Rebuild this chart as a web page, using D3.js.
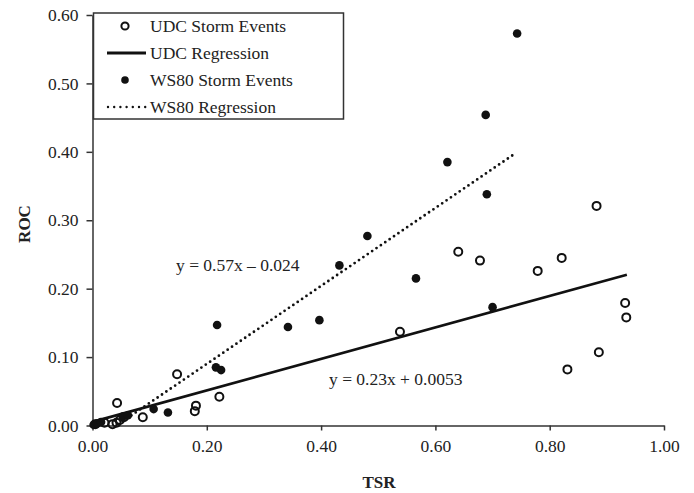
<!DOCTYPE html>
<html>
<head>
<meta charset="utf-8">
<script src="https://cdn.jsdelivr.net/npm/d3@7"></script>
<style>
  body{margin:0;background:#fff;}
  svg text{font-family:"Liberation Serif","Times New Roman",serif;fill:#222;}
</style>
</head>
<body>
<svg id="chart" width="694" height="493"></svg>
<script>
// UDC storm events (open circles) [TSR, ROC]
const udcTSR=[0.005,0.021,0.035,0.042,0.043,0.048,0.055,0.088,0.148,0.179,0.181,0.222,0.538,0.640,0.678,0.779,0.821,0.831,0.882,0.886,0.932,0.934];
const udcROC=[0.002,0.004,0.002,0.004,0.033,0.008,0.012,0.012,0.075,0.021,0.029,0.042,0.137,0.254,0.241,0.226,0.245,0.082,0.321,0.107,0.179,0.158];
// WS80 storm events (filled dots)
const wsTSR=[0.002,0.008,0.015,0.053,0.062,0.107,0.132,0.216,0.218,0.225,0.342,0.397,0.432,0.481,0.566,0.621,0.688,0.690,0.700,0.743];
const wsROC=[0.001,0.003,0.005,0.013,0.015,0.024,0.019,0.085,0.147,0.081,0.144,0.154,0.234,0.277,0.215,0.385,0.454,0.338,0.173,0.573];
// regressions: slope, intercept, x-range
const udcFit={m:0.23,b:0.0053,x0:0,x1:0.935};
const wsFit={m:0.57,b:-0.024,x0:0.045,x1:0.74};
const xTicks=[0,0.2,0.4,0.6,0.8,1.0];
const yTicks=[0,0.1,0.2,0.3,0.4,0.5,0.6];
const legendItems=["UDC Storm Events","UDC Regression","WS80 Storm Events","WS80 Regression"];

const svg=d3.select('#chart');
const x=d3.scaleLinear().domain([0,1]).range([92.5,664]);
const y=d3.scaleLinear().domain([0,0.6]).range([425.5,15]);
const fmt=d3.format('.2f');

// axes
const gx=svg.append('g').attr('transform','translate(0,'+y(0)+')')
  .call(d3.axisBottom(x).tickValues(xTicks).tickFormat(fmt).tickSize(5).tickSizeOuter(0).tickPadding(9));
const gy=svg.append('g').attr('transform','translate('+x(0)+',0)')
  .call(d3.axisLeft(y).tickValues(yTicks).tickFormat(fmt).tickSize(6).tickSizeOuter(0).tickPadding(8));
[gx,gy].forEach(g=>{
  g.selectAll('path,line').attr('stroke','#333').attr('stroke-width',1.5);
  g.selectAll('text').style('font-size','17.5px').attr('fill','#333');
});

svg.append('text').attr('x',379).attr('y',488).attr('text-anchor','middle')
  .style('font-size','17px').style('font-weight','bold').text('TSR');
svg.append('text').attr('transform','translate(30,224) rotate(-90)').attr('text-anchor','middle')
  .style('font-size','17px').style('font-weight','bold').text('ROC');

// regression lines
const line=d3.line().x(d=>x(d[0])).y(d=>y(d[1]));
function fitPts(f){return [[f.x0,f.m*f.x0+f.b],[f.x1,f.m*f.x1+f.b]];}
svg.append('path').attr('d',line(fitPts(udcFit))).attr('stroke','#111').attr('stroke-width',2.6).attr('fill','none');
svg.append('path').attr('d',line(fitPts(wsFit))).attr('stroke','#111').attr('stroke-width',2.8)
  .attr('stroke-dasharray','0,5.3').attr('stroke-linecap','round').attr('fill','none');

// points
svg.append('g').selectAll('circle').data(d3.zip(udcTSR,udcROC)).join('circle')
  .attr('cx',d=>x(d[0])).attr('cy',d=>y(d[1])).attr('r',4)
  .attr('fill','none').attr('stroke','#111').attr('stroke-width',2);
svg.append('g').selectAll('circle').data(d3.zip(wsTSR,wsROC)).join('circle')
  .attr('cx',d=>x(d[0])).attr('cy',d=>y(d[1])).attr('r',4.3).attr('fill','#111');

// equations
svg.append('text').attr('x',176).attr('y',271).style('font-size','17.5px').text('y = 0.57x \u2013 0.024');
svg.append('text').attr('x',329).attr('y',385).style('font-size','17.5px').text('y = 0.23x + 0.0053');

// legend
const lg=svg.append('g');
lg.append('rect').attr('x',93.5).attr('y',13).attr('width',250).attr('height',106)
  .attr('fill','#fff').attr('stroke','#333').attr('stroke-width',1.5);
const rowY=d3.scalePoint().domain(legendItems).range([26,107]);
lg.selectAll('text').data(legendItems).join('text')
  .attr('x',150).attr('y',d=>rowY(d)+6).style('font-size','17.5px').text(d=>d);
lg.append('circle').attr('cx',125).attr('cy',rowY(legendItems[0])).attr('r',3.6)
  .attr('fill','none').attr('stroke','#111').attr('stroke-width',2);
lg.append('line').attr('x1',107).attr('x2',146).attr('y1',rowY(legendItems[1])).attr('y2',rowY(legendItems[1]))
  .attr('stroke','#111').attr('stroke-width',3);
lg.append('circle').attr('cx',125).attr('cy',rowY(legendItems[2])).attr('r',3.8).attr('fill','#111');
lg.append('line').attr('x1',108).attr('x2',146).attr('y1',rowY(legendItems[3])).attr('y2',rowY(legendItems[3]))
  .attr('stroke','#111').attr('stroke-width',2.4).attr('stroke-dasharray','0,6.2').attr('stroke-linecap','round');
</script>
</body>
</html>
